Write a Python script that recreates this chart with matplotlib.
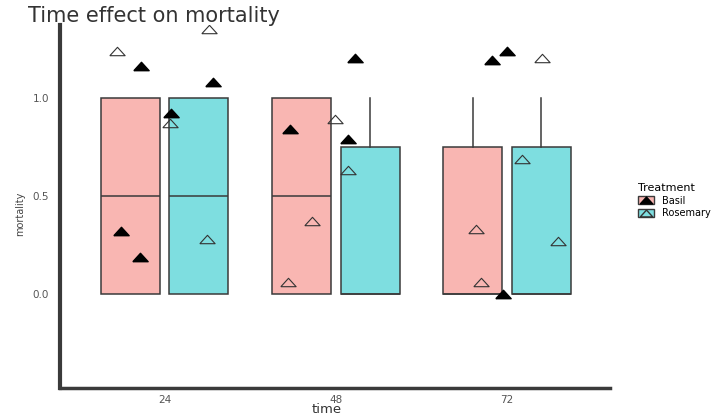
import matplotlib
matplotlib.use("Agg")
import matplotlib.pyplot as plt
from matplotlib.patches import Patch
from matplotlib.lines import Line2D

times = ["24", "48", "72"]
treatments = ["Basil", "Rosemary"]

# box stats per time, per treatment (q1, median, q3, upper whisker)
basil_q1 = [0.0, 0.0, 0.0]
basil_med = [0.5, 0.5, 0.0]
basil_q3 = [1.0, 1.0, 0.75]
basil_whishi = [1.0, 1.0, 1.0]
rosemary_q1 = [0.0, 0.0, 0.0]
rosemary_med = [0.5, 0.0, 0.0]
rosemary_q3 = [1.0, 0.75, 0.75]
rosemary_whishi = [1.0, 1.0, 1.0]

# jittered points (x in category units, 1 = "24")
basil_x = [0.86, 1.28, 1.035, 0.743, 0.854, 1.735, 2.073, 2.114, 2.913, 3.0, 2.977]
basil_y = [1.16, 1.08, 0.92, 0.32, 0.19, 0.84, 0.79, 1.20, 1.19, 1.24, 0.0]
rosemary_x = [0.72, 1.257, 1.03, 1.25, 1.997, 2.073, 1.863, 1.723, 3.204, 2.819, 2.848, 3.087, 3.297]
rosemary_y = [1.24, 1.35, 0.87, 0.28, 0.89, 0.63, 0.37, 0.06, 1.20, 0.33, 0.06, 0.69, 0.27]

pink = "#F9B6B2"
teal = "#7EDEE0"
edge = "#3a3a3a"
tri = [(-1, -0.55), (1, -0.55), (0, 0.55), (-1, -0.55)]

fig = plt.figure(figsize=(7.25, 4.19), dpi=100)
ax = fig.add_axes([0.083, 0.074, 0.758, 0.866])

pos = [1, 2, 3]
for q1, med, q3, hi, off, col in [
    (basil_q1, basil_med, basil_q3, basil_whishi, -0.2, pink),
    (rosemary_q1, rosemary_med, rosemary_q3, rosemary_whishi, 0.2, teal),
]:
    stats = []
    for i in range(3):
        stats.append({"q1": q1[i], "med": med[i], "q3": q3[i],
                      "whislo": q1[i], "whishi": hi[i], "fliers": []})
    ax.bxp(stats, positions=[p + off for p in pos], widths=0.345,
           patch_artist=True, showcaps=False,
           boxprops=dict(facecolor=col, edgecolor=edge, linewidth=1.1),
           medianprops=dict(color=edge, linewidth=1.1),
           whiskerprops=dict(color=edge, linewidth=1.1),
           manage_ticks=False, zorder=2)

ax.plot(basil_x, basil_y, linestyle="none", marker=tri, markersize=11,
        markerfacecolor="black", markeredgecolor="black", zorder=3)
ax.plot(rosemary_x, rosemary_y, linestyle="none", marker=tri, markersize=11,
        markerfacecolor="none", markeredgecolor="#333333", markeredgewidth=0.8, zorder=3)

ax.set_xlim(0.39, 3.6)
ax.set_ylim(-0.48, 1.37)
ax.set_xticks(pos)
ax.set_xticklabels(times)
ax.set_yticks([0.0, 0.5, 1.0])
ax.set_yticklabels(["0.0", "0.5", "1.0"])
ax.tick_params(axis="y", length=0, labelsize=7.5, labelcolor="#555555", pad=8)
ax.tick_params(axis="x", length=0, labelsize=7.5, labelcolor="#555555", pad=5)
for s in ["top", "right"]:
    ax.spines[s].set_visible(False)
ax.spines["left"].set_linewidth(3)
ax.spines["left"].set_color("#3a3a3a")
ax.spines["bottom"].set_linewidth(2.5)
ax.spines["bottom"].set_color("#3a3a3a")

fig.text(0.038, 0.985, "Time effect on mortality", fontsize=15, color="#333333", va="top")
fig.text(0.45, 0.006, "time", fontsize=9.5, color="#333333", ha="center", va="bottom")
fig.text(0.028, 0.49, "mortality", fontsize=7, color="#444444", rotation=90, ha="center", va="center")

handles = [
    (Patch(facecolor=pink, edgecolor=edge), Line2D([], [], linestyle="none", marker=tri, markersize=9,
                                                     markerfacecolor="black", markeredgecolor="black")),
    (Patch(facecolor=teal, edgecolor=edge), Line2D([], [], linestyle="none", marker=tri, markersize=9,
                                                    markerfacecolor="none", markeredgecolor="#333333")),
]
leg = fig.legend(handles, treatments, title="Treatment", loc="upper left",
                 bbox_to_anchor=(0.868, 0.585), frameon=False, fontsize=7,
                 title_fontsize=8, handlelength=1.6, handleheight=0.9,
                 handletextpad=0.9, labelspacing=0.3)
leg._legend_box.align = "left"

fig.savefig("out.png", dpi=100)
